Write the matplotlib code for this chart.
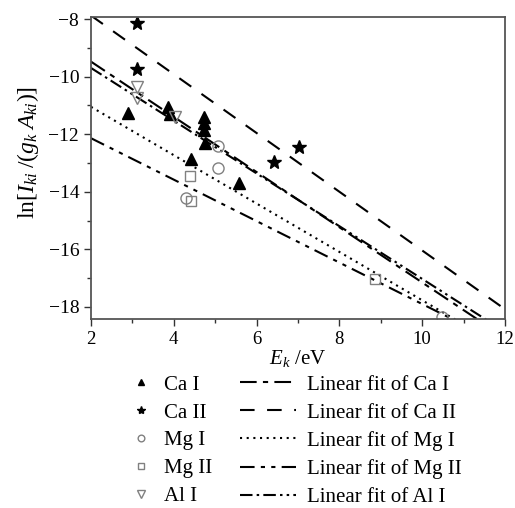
import matplotlib
matplotlib.use("Agg")
import matplotlib.pyplot as plt
from matplotlib.ticker import MultipleLocator

plt.rcParams['font.family'] = ['Liberation Serif', 'DejaVu Serif']
plt.rcParams['mathtext.fontset'] = 'custom'
plt.rcParams['mathtext.rm'] = 'Liberation Serif'
plt.rcParams['mathtext.it'] = 'Liberation Serif:italic'

# ---- data ----
ca1_x = [2.90, 3.86, 3.90, 4.42, 4.72, 4.74, 4.74, 4.76, 5.57]
ca1_y = [-11.27, -11.05, -11.30, -12.87, -11.39, -11.62, -11.85, -12.32, -13.71]
ca2_x = [3.11, 3.11, 6.42, 7.02]
ca2_y = [-8.13, -9.74, -12.95, -12.43]
mg1_x = [5.06, 5.06, 4.30, 10.49]
mg1_y = [-12.41, -13.16, -14.23, -18.34]
mg2_x = [4.40, 4.42, 8.85]
mg2_y = [-13.44, -14.32, -17.04]
al1_x = [3.11, 3.11, 4.02]
al1_y = [-10.37, -10.75, -11.39]

fit_x = [2, 12]
fit_ca1 = [-9.48, -19.07]
fit_ca2 = [-7.88, -18.08]
fit_mg1 = [-11.05, -19.45]
fit_mg2 = [-12.14, -19.34]
fit_al1 = [-9.70, -18.86]

labels_pts = ['Ca I', 'Ca II', 'Mg I', 'Mg II', 'Al I']
labels_fit = ['Linear fit of Ca I', 'Linear fit of Ca II', 'Linear fit of Mg I',
              'Linear fit of Mg II', 'Linear fit of Al I']

W, H = 515, 508
fig = plt.figure(figsize=(W / 100, H / 100), dpi=100)
ax = fig.add_axes([91 / W, 1 - 319 / H, (505 - 91) / W, (319 - 17) / H])

gray = '#808080'
lw = 1.5
ls_ca1 = (0, (8, 3, 2.5, 3))
ls_ca2 = (0, (7, 6))
ls_mg1 = (0, (1, 2.2))
ls_mg2 = (0, (7, 3, 2, 3, 2, 3))
ls_al1 = (0, (6, 2, 1.2, 2, 6, 2, 1.2, 2, 1.2, 2))

l1, = ax.plot(fit_x, fit_ca1, color='black', lw=lw, linestyle=ls_ca1)
l2, = ax.plot(fit_x, fit_ca2, color='black', lw=lw, linestyle=ls_ca2)
l3, = ax.plot(fit_x, fit_mg1, color='black', lw=lw, linestyle=ls_mg1)
l4, = ax.plot(fit_x, fit_mg2, color='black', lw=lw, linestyle=ls_mg2)
l5, = ax.plot(fit_x, fit_al1, color='black', lw=lw, linestyle=ls_al1)

p1, = ax.plot(ca1_x, ca1_y, '^', color='black', ms=8, ls='none')
p2, = ax.plot(ca2_x, ca2_y, '*', color='black', ms=10, ls='none')
p3, = ax.plot(mg1_x, mg1_y, 'o', mfc='none', mec=gray, mew=1.0, ms=8, ls='none')
p4, = ax.plot(mg2_x, mg2_y, 's', mfc='none', mec=gray, mew=1.0, ms=7, ls='none')
p5, = ax.plot(al1_x, al1_y, 'v', mfc='none', mec=gray, mew=1.0, ms=9, ls='none')

ax.set_xlim(2, 12)
ax.set_ylim(-18.42, -7.93)
ax.xaxis.set_major_locator(MultipleLocator(2))
ax.xaxis.set_minor_locator(MultipleLocator(1))
ax.yaxis.set_major_locator(MultipleLocator(2))
ax.yaxis.set_minor_locator(MultipleLocator(1))
ax.tick_params(which='both', direction='out', top=False, right=False,
               labelsize=14, color='#333333', width=1.0)
ax.tick_params(axis='x', labelsize=13.5)
ax.tick_params(which='major', length=5)
ax.tick_params(which='minor', length=3)
for s in ax.spines.values():
    s.set_color('#555555')
    s.set_linewidth(1.3)

ax.set_xlabel(r'$E_k$ /eV', fontsize=15, labelpad=0)
ax.set_ylabel(r'$\mathrm{ln}[I_{ki}\;/(g_k\;A_{ki})]$', fontsize=17, labelpad=4)
ax.yaxis.set_label_coords(-0.12, 0.55)

leg1 = fig.legend([p1, p2, p3, p4, p5], labels_pts, loc='upper left',
                  bbox_to_anchor=(131 / W, 1 - 375 / H), frameon=False,
                  fontsize=15, handlelength=1.0, handletextpad=0.6,
                  labelspacing=0.40, markerscale=0.6, borderpad=0,
                  borderaxespad=0)
leg2 = fig.legend([l1, l2, l3, l4, l5], labels_fit, loc='upper left',
                  bbox_to_anchor=(240 / W, 1 - 375 / H), frameon=False,
                  fontsize=15, handlelength=2.7, handletextpad=0.5,
                  labelspacing=0.40, borderpad=0, borderaxespad=0)

fig.savefig('out.png', dpi=100)
